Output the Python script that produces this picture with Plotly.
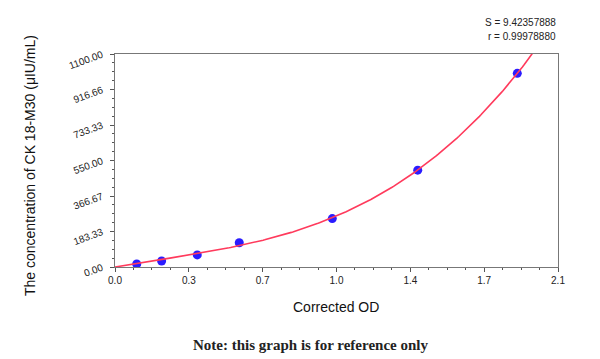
import numpy as np
import plotly.graph_objects as go

# Data
od = [0.103, 0.221, 0.390, 0.589, 1.030, 1.435, 1.907]
conc = [15.625, 31.25, 62.5, 125, 250, 500, 1000]

x_tickvals = [0.0, 0.35, 0.70, 1.05, 1.40, 1.75, 2.10]
x_ticktext = ["0.0", "0.3", "0.7", "1.0", "1.4", "1.7", "2.1"]
y_tickvals = [0, 183.33, 366.67, 550, 733.33, 916.66, 1100]
y_ticktext = ["0.00", "183.33", "366.67", "550.00", "733.33", "916.66", "1100.00"]

s_text = "S = 9.42357888"
r_text = "r = 0.99978880"
note_text = "Note: this graph is for reference only"

# Regression curve (cubic through origin) fitted to the data
xa = np.array(od)
ya = np.array(conc)
A = np.vstack([xa, xa**2, xa**3]).T
coef, *_ = np.linalg.lstsq(A, ya, rcond=None)
xc = np.linspace(0, 2.1, 300)
yc = coef[0]*xc + coef[1]*xc**2 + coef[2]*xc**3

fig = go.Figure()
fig.add_trace(go.Scatter(x=od, y=conc, mode="markers",
                         marker=dict(color="#2a1cff", size=9, line=dict(width=0)),
                         showlegend=False, cliponaxis=True))
fig.add_trace(go.Scatter(x=xc, y=yc, mode="lines",
                         line=dict(color="#ff3a5c", width=1.6),
                         showlegend=False, cliponaxis=True))

axis_common = dict(showgrid=False, zeroline=False, showline=True,
                   linecolor="#777", linewidth=1, mirror=True,
                   ticks="outside", ticklen=4, tickcolor="#555",
                   tickfont=dict(family="Liberation Sans, Arial", size=10, color="#222"))

fig.update_xaxes(range=[0, 2.1], tickmode="array", tickvals=x_tickvals, ticktext=x_ticktext,
                 minor=dict(ticks="outside", ticklen=2, dtick=0.0875, tick0=0, tickcolor="#555"),
                 **axis_common)
fig.update_yaxes(range=[0, 1100], tickmode="array", tickvals=y_tickvals, ticktext=y_ticktext,
                 tickangle=-20, ticklabelstandoff=6,
                 minor=dict(ticks="outside", ticklen=2, dtick=1100/24, tick0=0, tickcolor="#555"),
                 **axis_common)

fig.update_layout(
    width=600, height=359,
    margin=dict(l=107, r=50, t=46, b=100),
    paper_bgcolor="white", plot_bgcolor="white",
    font=dict(family="Liberation Sans, Arial", color="#222"),
    annotations=[
        dict(text="The concentration of CK 18-M30 (μIU/mL)", textangle=-90,
             xref="paper", yref="paper", x=(30-115)/443, y=(267-166)/213,
             xanchor="center", yanchor="middle", showarrow=False,
             font=dict(size=14, color="#111")),
        dict(text="Corrected OD", xref="paper", yref="paper",
             x=(336-115)/443, y=-(307-267)/213, xanchor="center", yanchor="middle",
             showarrow=False, font=dict(size=14, color="#111")),
        dict(text=s_text, xref="paper", yref="paper", x=1.0, y=(267-22)/213,
             xanchor="right", yanchor="middle", showarrow=False,
             font=dict(size=10, color="#222")),
        dict(text=r_text, xref="paper", yref="paper", x=1.0, y=(267-37)/213,
             xanchor="right", yanchor="middle", showarrow=False,
             font=dict(size=10, color="#222")),
        dict(text="<b>" + note_text + "</b>", xref="paper", yref="paper",
             x=(310-115)/443, y=-(345-267)/213, xanchor="center", yanchor="middle",
             showarrow=False,
             font=dict(family="Liberation Serif, Times New Roman", size=15, color="#222")),
    ],
)

fig.write_html("out.html")
